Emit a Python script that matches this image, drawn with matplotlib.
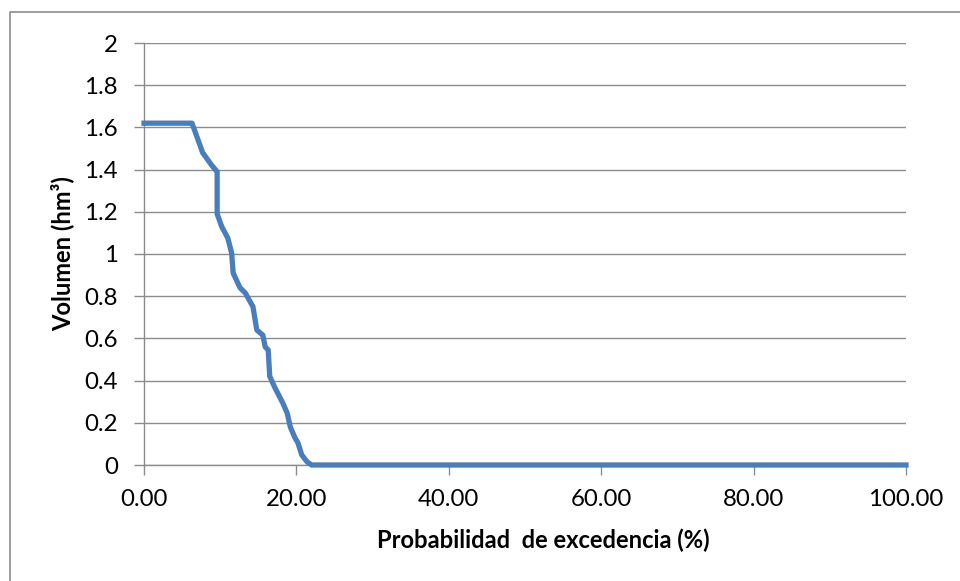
import matplotlib
matplotlib.use("Agg")
import matplotlib.pyplot as plt
from matplotlib.lines import Line2D

prob = [0.0, 6.3, 7.1, 7.7, 8.9, 9.6, 9.6, 10.2, 11.0, 11.5, 11.7, 12.6, 13.3, 14.3,
        14.8, 15.6, 15.9, 16.3, 16.5, 17.2, 18.2, 18.8, 19.2, 19.8, 20.2, 20.7,
        21.4, 22.0, 100.0]
vol = [1.62, 1.62, 1.54, 1.48, 1.42, 1.39, 1.19, 1.13, 1.075, 1.005, 0.91, 0.84,
       0.815, 0.75, 0.64, 0.615, 0.56, 0.545, 0.42, 0.365, 0.295, 0.245, 0.18,
       0.13, 0.105, 0.048, 0.015, 0.0, 0.0]

x_ticks = [0, 20, 40, 60, 80, 100]
y_ticks = [0, 0.2, 0.4, 0.6, 0.8, 1, 1.2, 1.4, 1.6, 1.8, 2]
y_labels = ["0", "0.2", "0.4", "0.6", "0.8", "1", "1.2", "1.4", "1.6", "1.8", "2"]
x_title = "Probabilidad  de excedencia (%)"
y_title = "Volumen (hm³)"

plt.rcParams['font.family'] = ['Lato', 'DejaVu Sans']

W, H = 960, 581
fig = plt.figure(figsize=(W/100, H/100), dpi=100)
ax = fig.add_axes([144/W, 1-465/H, (906-144)/W, (465-43)/H])

ax.plot(prob, vol, color='#4A7EBB', lw=3.8, solid_joinstyle='round', zorder=3, clip_on=False)

ax.set_xlim(0, 100)
ax.set_ylim(0, 2)
ax.set_xticks(x_ticks)
ax.set_xticklabels([f"{v:.2f}" for v in x_ticks])
ax.set_yticks(y_ticks)
ax.set_yticklabels(y_labels)
ax.yaxis.grid(True, color='#8C8C8C', lw=1)
ax.set_axisbelow(True)
for s in ['top', 'right']:
    ax.spines[s].set_visible(False)
for s in ['left', 'bottom']:
    ax.spines[s].set_color('#8C8C8C')
    ax.spines[s].set_linewidth(1)

# fit font sizes to the reference text widths (pixels)
renderer = fig.canvas.get_renderer()
def fit_size(s, target_px, weight='normal', base=16):
    t = fig.text(0, 0, s, fontsize=base, fontweight=weight)
    w = t.get_window_extent(renderer).width
    t.remove()
    return base * target_px / w

tick_fs = fit_size("100.00", 75)
xlab_fs = fit_size(x_title, 300, 'bold')
ylab_fs = fit_size(y_title, 172, 'bold')
lab_fs = 0.5 * (xlab_fs + ylab_fs)

ax.tick_params(axis='both', colors='#8C8C8C', labelcolor='#000000', labelsize=tick_fs,
               length=7.2, width=1, direction='out')
ax.tick_params(axis='x', pad=10)
ax.tick_params(axis='y', pad=11.5)

xl = ax.set_xlabel(x_title, fontsize=lab_fs, fontweight='bold')
yl = ax.set_ylabel(y_title, fontsize=lab_fs, fontweight='bold')
xl.set_va('center'); xl.set_ha('center')
yl.set_va('center'); yl.set_ha('center'); yl.set_rotation_mode('anchor')
ax.xaxis.set_label_coords((543-144)/762, -(540-465)/422)
ax.yaxis.set_label_coords((62-144)/762, (465-254)/422)

# outer chart border (left and top visible)
fig.add_artist(Line2D([10/W, 10/W, 1.0], [0.0, 1-12/H, 1-12/H],
                      transform=fig.transFigure, color='#8C8C8C', lw=1.2))

fig.savefig("out.png", dpi=100)
